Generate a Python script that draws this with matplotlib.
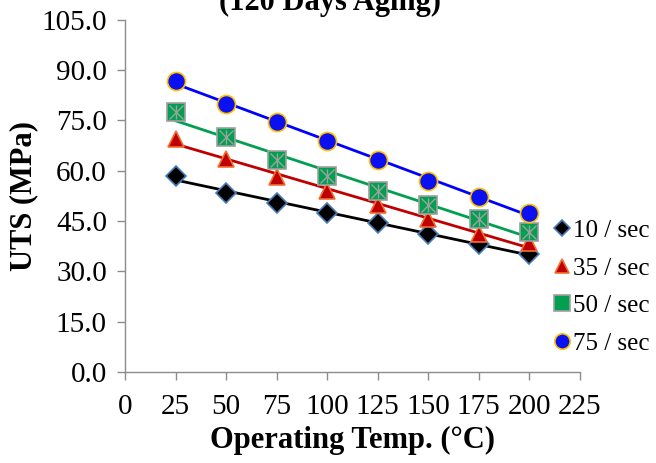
import numpy as np
import matplotlib.pyplot as plt
from matplotlib.lines import Line2D

plt.rcParams['font.family'] = ['Liberation Serif', 'DejaVu Serif']

# operating temperature (C)
temps = [25, 50, 75, 100, 125, 150, 175, 200]

# UTS (MPa) for each strain rate
uts_10 = [58.3, 53.3, 50.5, 47.3, 44.4, 41.1, 38.1, 35.2]
uts_35 = [69.5, 63.5, 58.1, 53.8, 49.8, 45.5, 41.1, 38.4]
uts_50 = [77.5, 70.0, 63.2, 58.3, 53.8, 49.8, 45.6, 41.7]
uts_75 = [86.6, 80.0, 74.5, 68.9, 63.2, 57.0, 52.3, 47.3]

labels = ['10 / sec', '35 / sec', '50 / sec', '75 / sec']

fig = plt.figure(figsize=(6.56, 4.63), dpi=100)
ax = fig.add_axes([0.1905, 0.1965, 0.6935, 0.761])

styles = [
    # line color, marker, face, edge, size
    ('black', 'D', 'black', '#4a7ebb', 10),
    ('#c00000', '^', '#c00000', '#f07030', 12),
    ('#00a050', 's', '#00a050', '#a0a0a0', 13),
    ('#0000ff', 'o', '#0a10f0', '#ffc000', 13),
]

x = np.array(temps)
handles = []
for ys, (lc, mk, fc, ec, ms), lab in zip([uts_10, uts_35, uts_50, uts_75], styles, labels):
    ys = np.array(ys)
    # linear trend line
    k, b = np.polyfit(x, ys, 1)
    ax.plot(x, k * x + b, color=lc, lw=2.0, zorder=2)
    ax.plot(x, ys, ls='none', marker=mk, ms=ms, mfc=fc, mec=ec, mew=1.2, zorder=3)
    if mk == 's':
        ax.plot(x, ys, ls='none', marker='x', ms=ms * 0.75, mec='#a0a0a0', mew=1.0, zorder=4)
        ax.plot(x, ys, ls='none', marker='|', ms=ms * 0.75, mec='#a0a0a0', mew=1.0, zorder=4)
    handles.append(Line2D([], [], ls='none', marker=mk, ms=ms * 0.85, mfc=fc, mec=ec, mew=1.2))

ax.set_xlim(0, 225)
ax.set_ylim(0, 105)
ax.set_xticks(np.arange(0, 226, 25))
ax.set_yticks(np.arange(0, 106, 15))
ax.set_yticklabels([f'{v:.1f}' for v in np.arange(0, 106, 15)])

for s in ['top', 'right']:
    ax.spines[s].set_visible(False)
for s in ['left', 'bottom']:
    ax.spines[s].set_color('#8c8c8c')
    ax.spines[s].set_linewidth(1.0)
ax.tick_params(direction='out', length=6, width=1.0, color='#8c8c8c', labelsize=21)
ax.tick_params(axis='x', pad=10)
ax.tick_params(axis='y', pad=7)

ax.set_xlabel('Operating Temp. (\u00b0C)', fontsize=22, fontweight='bold', labelpad=4)
ax.set_ylabel('UTS (MPa)', fontsize=22, fontweight='bold', labelpad=2)

fig.text(0.503, 0.995, '(120 Days Aging)', ha='center', va='center',
         fontsize=22, fontweight='bold')

leg = fig.legend(handles, labels, loc='center left', bbox_to_anchor=(0.845, 0.38),
                 frameon=False, fontsize=18, handlelength=0.6, handletextpad=0.15,
                 labelspacing=0.6, borderpad=0, borderaxespad=0)

fig.savefig('out.png', dpi=100)
